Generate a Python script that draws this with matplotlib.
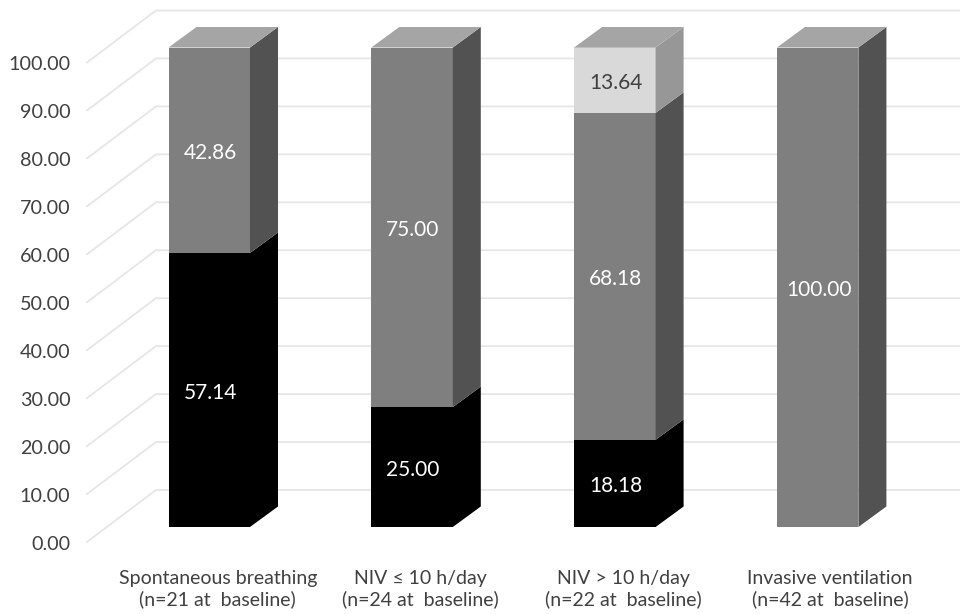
import matplotlib
matplotlib.use("Agg")
import matplotlib.pyplot as plt
from matplotlib.patches import Polygon
from matplotlib.transforms import ScaledTranslation

categories = ["Spontaneous breathing\n(n=21 at  baseline)", "NIV \u2264 10 h/day\n(n=24 at  baseline)",
              "NIV > 10 h/day\n(n=22 at  baseline)", "Invasive ventilation\n(n=42 at  baseline)"]
black_vals = [57.14, 25.00, 18.18, 0.0]
mid_vals = [42.86, 75.00, 68.18, 100.00]
light_vals = [0.0, 0.0, 13.64, 0.0]
y_ticks = [0, 10, 20, 30, 40, 50, 60, 70, 80, 90, 100]

plt.rcParams["font.family"] = ["Lato", "DejaVu Sans"]
W, H = 960, 614
fig = plt.figure(figsize=(W / 100, H / 100), dpi=100)
left, right, top, bottom = 87, 960, 0, 556
ax = fig.add_axes([left / W, 1 - bottom / H, (right - left) / W, (bottom - top) / H])

PX_X = 202.8   # pixels per category
PX_Y = 4.795   # pixels per value unit
ax.set_xlim((left - 209.25) / PX_X, (right - 209.25) / PX_X)
ax.set_ylim((542 - bottom) / PX_Y, (542 - top) / PX_Y)

half = 40.75 / PX_X
dx, dy = 28 / PX_X, 20.5 / PX_Y
lift = 15 / PX_Y
gx, gy = 69 / PX_X, 52 / PX_Y
x0 = ax.get_xlim()[0]
x1 = ax.get_xlim()[1]

for t in y_ticks:
    ax.plot([x0, x0 + gx, x1], [t, t + gy, t + gy], color="#e6e6e6", lw=1.3, zorder=1,
            clip_on=False, solid_joinstyle="miter")

styles = [
    (black_vals, "#000000", "#000000", "#000000", "white"),
    (mid_vals, "#7f7f7f", "#525252", "#a5a5a5", "white"),
    (light_vals, "#d9d9d9", "#979797", "#a5a5a5", "#404040"),
]

for i in range(len(categories)):
    base = 0.0
    last_top = None
    for vals, front, side, topc, txt in styles:
        v = vals[i]
        if v <= 0:
            continue
        b, t = base + lift, base + v + lift
        l, r = i - half, i + half
        ax.add_patch(Polygon([(l, b), (r, b), (r, t), (l, t)], fc=front, ec="none", zorder=3))
        ax.add_patch(Polygon([(r, b), (r + dx, b + dy), (r + dx, t + dy), (r, t)], fc=side, ec="none", zorder=3))
        ax.text(i + 1 / PX_X, (b + t) / 2 - 3 / PX_Y, f"{v:.2f}", color=txt, ha="center", va="center",
                fontsize=15, zorder=5)
        base += v
        last_top = (l, r, t, topc)
    l, r, t, topc = last_top
    ax.add_patch(Polygon([(l, t), (r, t), (r + dx, t + dy), (l + dx, t + dy)], fc=topc, ec="none", zorder=3))

ax.set_yticks(y_ticks)
ax.set_yticklabels([f"{t:.2f}" for t in y_ticks], color="#404040", fontsize=14.2)
ax.set_xticks(range(len(categories)))
ax.set_xticklabels(categories, color="#404040", fontsize=14, linespacing=1.25)
ax.tick_params(axis="both", length=0)
ax.tick_params(axis="y", pad=12)
ax.tick_params(axis="x", pad=10)
for lab, off in zip(ax.get_xticklabels(), [8.5, 8.5, 8.5, 12.5]):
    lab.set_transform(lab.get_transform() + ScaledTranslation(off / 100, 0, fig.dpi_scale_trans))
for lab in ax.get_yticklabels():
    lab.set_transform(lab.get_transform() + ScaledTranslation(0, -1 / 100, fig.dpi_scale_trans))
for s in ax.spines.values():
    s.set_visible(False)
ax.patch.set_alpha(0)

fig.savefig("out.png", dpi=100, facecolor="white")
